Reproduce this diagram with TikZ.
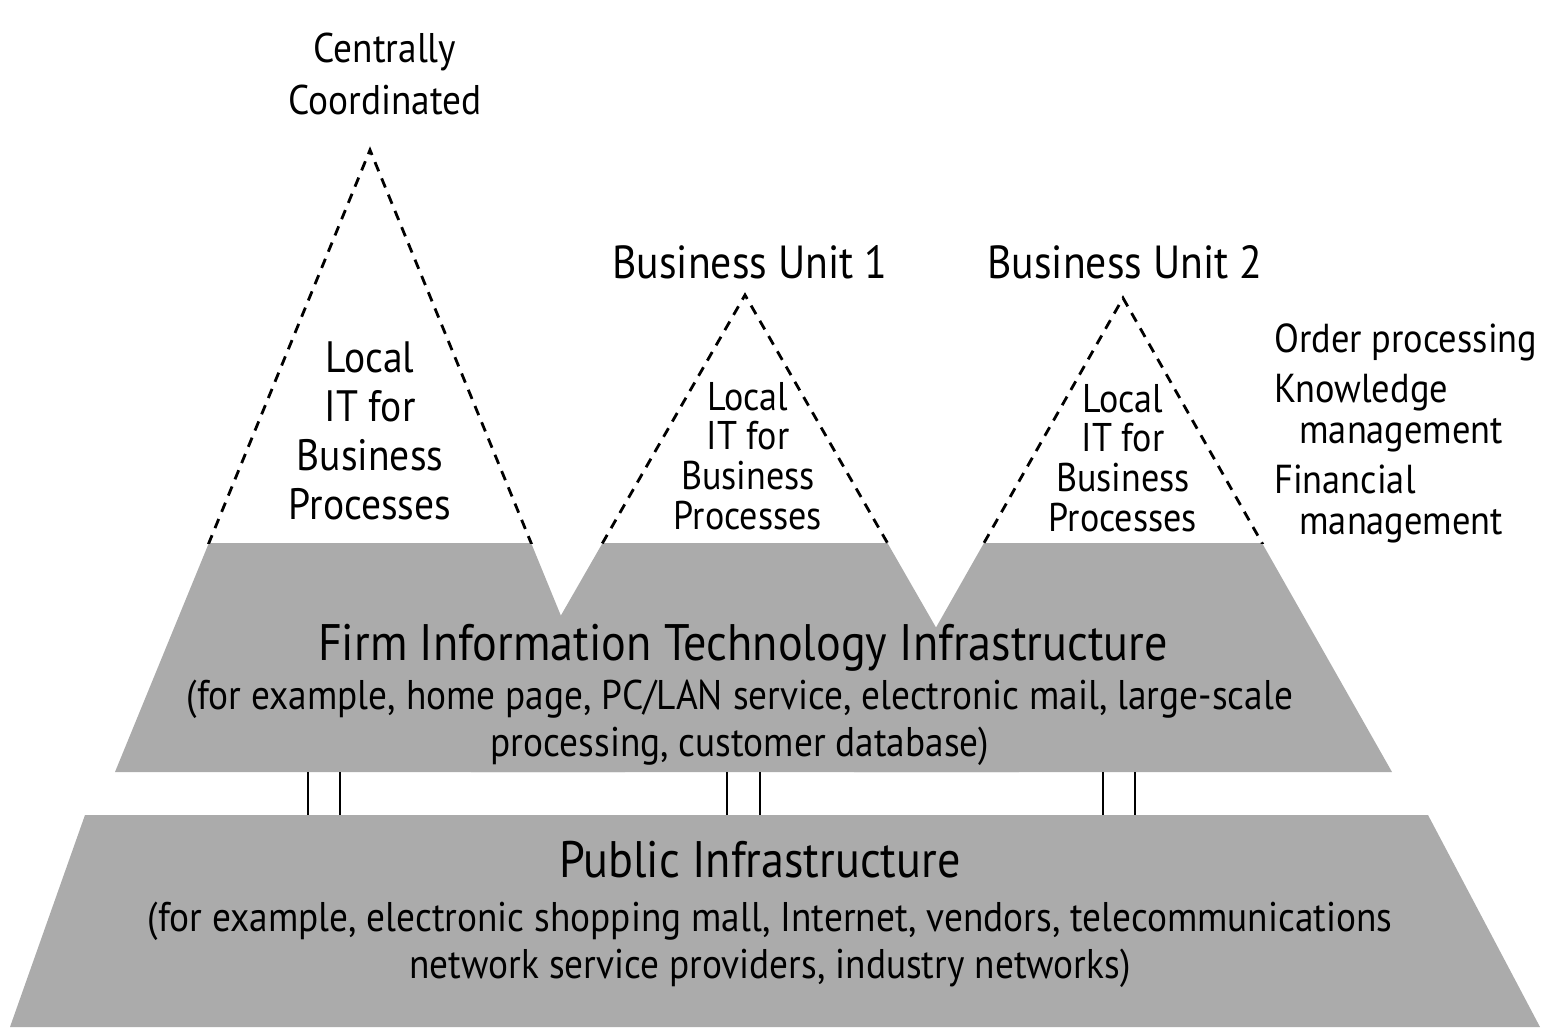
\documentclass[tikz,border=0pt]{standalone}
\usepackage{fontspec}
\setmainfont{PT Sans}[FakeStretch=0.9]
\usepackage{tikz}

\begin{document}
\begin{tikzpicture}[
    infra/.style={fill=black!33},
    dashline/.style={line width=.8pt,dash pattern=on 2.8pt off 2.2pt},
    pillar/.style={line width=.7pt},
    lab/.style={align=center,font=\fontsize{12.5}{13.9}\selectfont},
    smalllab/.style={align=center,font=\fontsize{11.4}{11.3}\selectfont},
    biglab/.style={align=center,font=\fontsize{14.6}{14}\selectfont},
    exlab/.style={align=center,font=\fontsize{11.8}{13.4}\selectfont},
    note/.style={align=left,font=\fontsize{11.5}{11.5}\selectfont,anchor=west}]
    \useasboundingbox (0,0) rectangle (15.47,10.27);
    % apexes of the three pyramids
    \coordinate (apex1) at (3.70,8.77);
    \coordinate (apex2) at (7.45,7.32);
    \coordinate (apex3) at (11.23,7.29);
    % shaded firm infrastructure band
    \begin{scope}
      \clip (0,4.84) rectangle (15.47,2.55);
      \fill[infra] (apex1) -- (1.15,2.55) -- (6.25,2.55) -- cycle;
      \fill[infra] (apex2) -- (4.71,2.55) -- (10.19,2.55) -- cycle;
      \fill[infra] (apex3) -- (8.54,2.55) -- (13.92,2.55) -- cycle;
    \end{scope}
    % dashed tops
    \begin{scope}
      \clip (0,4.84) rectangle (15.47,10.27);
      \draw[dashline] (1.15,2.55) -- (apex1) -- (6.25,2.55);
      \draw[dashline] (4.71,2.55) -- (apex2) -- (10.19,2.55);
      \draw[dashline] (8.54,2.55) -- (apex3) -- (13.92,2.55);
    \end{scope}
    % public infrastructure
    \fill[infra] (0.85,2.12) -- (14.28,2.12) -- (15.40,0) -- (0.10,0) -- cycle;
    \foreach \x in {3.08,3.40,7.27,7.60,11.03,11.35}
      \draw[pillar] (\x,2.55) -- (\x,2.12);

    \node[lab,font=\fontsize{11.8}{15}\selectfont] (central) at (3.85,9.53) {Centrally\\Coordinated};
    \node[lab] (local1) at (3.70,5.96) {Local\\IT for\\Business\\Processes};
    \node[lab,font=\fontsize{13.2}{14}\selectfont] (unit1) at (7.50,7.65) {Business Unit 1};
    \node[smalllab] (local2) at (7.48,5.71) {Local\\IT for\\Business\\Processes};
    \node[lab,font=\fontsize{13.2}{14}\selectfont] (unit2) at (11.25,7.65) {Business Unit 2};
    \node[smalllab] (local3) at (11.23,5.69) {Local\\IT for\\Business\\Processes};
    \node[note] (order) at (12.62,6.85) {Order processing};
    \node[note] (know) at (12.62,6.14) {Knowledge\\\hspace*{.25cm}management};
    \node[note] (fin) at (12.62,5.23) {Financial\\\hspace*{.25cm}management};

    \node[biglab] (firm) at (7.43,3.79) {Firm Information Technology Infrastructure};
    \node[exlab] (firmex) at (7.40,3.04) {(for example, home page, PC/LAN service, electronic mail, large-scale\\processing, customer database)};
    \node[biglab] (public) at (7.60,1.67) {Public Infrastructure};
    \node[exlab] (publicex) at (7.70,0.82) {(for example, electronic shopping mall, Internet, vendors, telecommunications\\network service providers, industry networks)};
  \end{tikzpicture}
\end{document}
